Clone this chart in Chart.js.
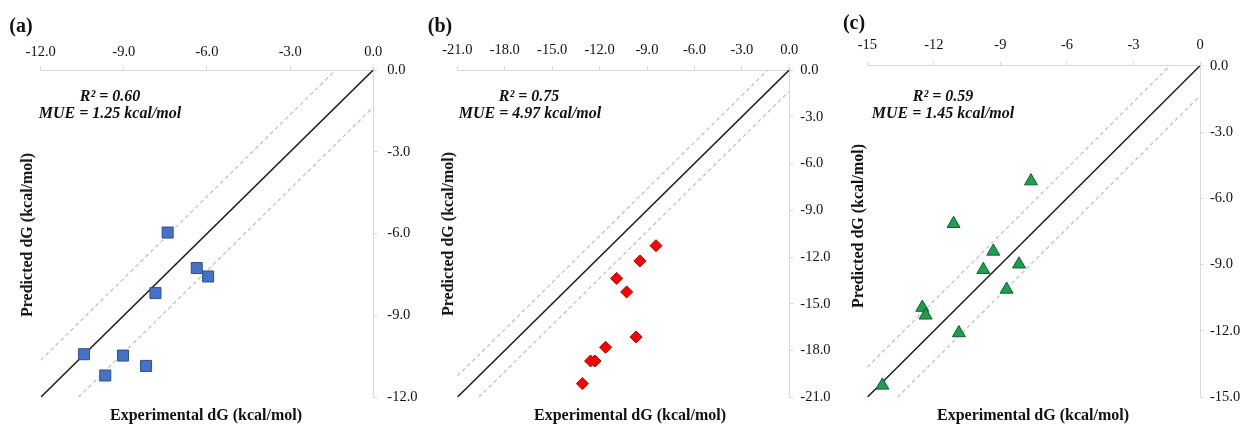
<!DOCTYPE html>
<html><head><meta charset="utf-8">
<script src="https://cdn.jsdelivr.net/npm/chart.js@4.4.1/dist/chart.umd.min.js"></script>
<style>
body{margin:0;background:#fff;width:1251px;height:424px;overflow:hidden;position:relative;font-family:"Liberation Serif","Times New Roman",serif;}
canvas{position:absolute;left:0;top:0;}
.t{position:absolute;white-space:nowrap;color:#111;transform:translate(-50%,-50%);line-height:1;}
.pl{font-weight:bold;font-size:20px;}
.ax{font-weight:bold;font-size:16px;}
.ay{font-weight:bold;font-size:16px;transform:translate(-50%,-50%) rotate(-90deg);}
.an{font-weight:bold;font-style:italic;font-size:16px;}
</style></head><body>
<canvas id="ca" width="1251" height="424"></canvas>
<canvas id="cb" width="1251" height="424"></canvas>
<canvas id="cc" width="1251" height="424"></canvas>

<div class="t pl" style="left:21px;top:25px">(a)</div>
<div class="t pl" style="left:440px;top:25px">(b)</div>
<div class="t pl" style="left:854px;top:22px">(c)</div>

<div class="t an" style="left:110px;top:96px">R² = 0.60</div>
<div class="t an" style="left:110px;top:113px">MUE = 1.25 kcal/mol</div>
<div class="t an" style="left:529px;top:96px">R² = 0.75</div>
<div class="t an" style="left:530px;top:113px">MUE = 4.97 kcal/mol</div>
<div class="t an" style="left:943px;top:96px">R² = 0.59</div>
<div class="t an" style="left:943px;top:113px">MUE = 1.45 kcal/mol</div>

<div class="t ax" style="left:206px;top:415px">Experimental dG (kcal/mol)</div>
<div class="t ax" style="left:630px;top:415px">Experimental dG (kcal/mol)</div>
<div class="t ax" style="left:1033px;top:415px">Experimental dG (kcal/mol)</div>
<div class="t ay" style="left:27px;top:235px">Predicted dG (kcal/mol)</div>
<div class="t ay" style="left:448px;top:234px">Predicted dG (kcal/mol)</div>
<div class="t ay" style="left:858px;top:226px">Predicted dG (kcal/mol)</div>

<script>
// ---- data ----
const expA  = [-7.42, -6.37, -5.96, -7.86, -10.44, -9.03, -8.20, -9.67];
const predA = [-5.96, -7.26, -7.57, -8.18, -10.42, -10.47, -10.85, -11.20];

const expB  = [-8.43, -9.45, -10.92, -10.29, -9.70, -11.62, -12.57, -12.29, -13.09];
const predB = [-11.27, -12.25, -13.37, -14.24, -17.13, -17.79, -18.67, -18.67, -20.12];

const expC  = [-7.62, -11.11, -9.32, -9.77, -8.16, -8.72, -12.52, -12.37, -10.87, -14.32];
const predC = [-5.22, -7.15, -8.40, -9.23, -8.98, -10.12, -10.94, -11.29, -12.09, -14.46];

const xTicksA = [-12, -9, -6, -3, 0];
const yTicksA = [0, -3, -6, -9, -12];
const xTicksB = [-21, -18, -15, -12, -9, -6, -3, 0];
const yTicksB = [0, -3, -6, -9, -12, -15, -18, -21];
const xTicksC = [-15, -12, -9, -6, -3, 0];
const yTicksC = [0, -3, -6, -9, -12, -15];

const band = 1.36; // dashed lines: ±1.36 kcal/mol from identity

// ---- chart building ----
const FONT = "'Liberation Serif','Times New Roman',serif";
const AXIS = '#d9d9d9';
const W = 1251, H = 424, XH = 40, YW = 50;

function makePanel(id, xs, ys, xt, yt, xDec, style, area, pads) {
  const lo = Math.min(...xt), hi = Math.max(...xt);
  const pts = xs.map((v, i) => ({x: v, y: ys[i]}));
  new Chart(document.getElementById(id), {
    type: 'scatter',
    data: {
      datasets: [
        Object.assign({data: pts, borderWidth: 1}, style),
        {data: [{x: lo, y: lo}, {x: hi, y: hi}], showLine: true, pointRadius: 0,
         borderColor: '#1f1f1f', borderWidth: 1.6},
        {data: [{x: lo, y: lo + band}, {x: hi - band, y: hi}], showLine: true, pointRadius: 0,
         borderColor: '#bfbfbf', borderWidth: 1.2, borderDash: [4, 3]},
        {data: [{x: lo + band, y: lo}, {x: hi, y: hi - band}], showLine: true, pointRadius: 0,
         borderColor: '#bfbfbf', borderWidth: 1.2, borderDash: [4, 3]}
      ]
    },
    options: {
      responsive: false, animation: false, events: [],
      layout: {padding: {left: area.L, top: area.T - XH, right: W - area.R - YW, bottom: H - area.B}},
      plugins: {legend: {display: false}, tooltip: {enabled: false}},
      scales: {
        x: {
          type: 'linear', position: 'top', min: lo, max: hi,
          afterBuildTicks: s => { s.ticks = xt.map(v => ({value: v})); },
          afterFit: s => { s.height = XH; },
          ticks: {callback: v => Number(v).toFixed(xDec), font: {family: FONT, size: 14.5},
                  color: '#111', padding: pads.x, autoSkip: false, maxRotation: 0},
          grid: {display: true, drawOnChartArea: false, drawTicks: true, tickLength: 4,
                 color: AXIS, tickColor: AXIS},
          border: {display: true, color: AXIS, width: 1}
        },
        y: {
          type: 'linear', position: 'right', min: lo, max: hi,
          afterBuildTicks: s => { s.ticks = yt.map(v => ({value: v})); },
          afterFit: s => { s.width = YW; },
          ticks: {callback: v => Number(v).toFixed(1), font: {family: FONT, size: 14.5},
                  color: '#111', padding: pads.y, autoSkip: false},
          grid: {display: true, drawOnChartArea: false, drawTicks: true, tickLength: 4,
                 color: AXIS, tickColor: AXIS},
          border: {display: true, color: AXIS, width: 1}
        }
      }
    }
  });
}

makePanel('ca', expA, predA, xTicksA, yTicksA, 1,
  {pointStyle: 'rect', pointRadius: 7.8, backgroundColor: '#4472C4', borderColor: '#2F4F8F'},
  {L: 40.7, T: 70, R: 373.3, B: 397.3}, {x: 5.5, y: 10});

makePanel('cb', expB, predB, xTicksB, yTicksB, 1,
  {pointStyle: 'rectRot', pointRadius: 6, backgroundColor: '#FF0000', borderColor: '#B00000'},
  {L: 457.3, T: 70, R: 789.3, B: 397.3}, {x: 7.6, y: 7});

makePanel('cc', expC, predC, xTicksC, yTicksC, 0,
  {pointStyle: 'triangle', pointRadius: 7.5, backgroundColor: '#1E9E4F', borderColor: '#155F30'},
  {L: 867.3, T: 65.7, R: 1200, B: 397.3}, {x: 8.3, y: 6});
</script>
</body></html>
